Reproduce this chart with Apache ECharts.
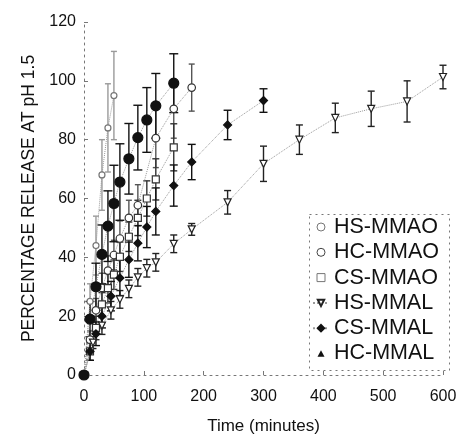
<!DOCTYPE html>
<html>
<head>
<meta charset="utf-8">
<script src="https://cdn.jsdelivr.net/npm/echarts@6/dist/echarts.min.js"></script>
<style>
html,body{margin:0;padding:0;background:#fff;}
#chart{width:460px;height:440px;}
</style>
</head>
<body>
<div id="chart"></div>
<script>
// ---- axis ticks ----
const xTicks = [0, 100, 200, 300, 400, 500, 600];
const yTicks = [0, 20, 40, 60, 80, 100, 120];

// ---- HS-MMAO (small open circles, fastest) ----
const hsMmaoT = [0, 10, 20, 30, 40, 50];
const hsMmaoV = [0, 25, 44, 68, 84, 95];
const hsMmaoE = [0, 6, 10, 12, 15, 15];

// ---- HC-MMAO (open circles) ----
const hcMmaoT = [0, 10, 20, 30, 40, 50, 60, 75, 90, 120, 150, 180];
const hcMmaoV = [0, 12, 22, 29.6, 35.5, 40.8, 46.4, 53.4, 57.7, 80.5, 90.5, 97.7];
const hcMmaoE = [0, 3, 4, 5, 5, 5, 6, 6, 7, 10, 10, 8];

// ---- CS-MMAO (open squares) ----
const csMmaoT = [0, 10, 20, 30, 40, 50, 60, 75, 90, 105, 120, 150];
const csMmaoV = [0, 8, 16, 24, 29.5, 34.1, 40.2, 47, 53.4, 60, 66.5, 77.4];
const csMmaoE = [0, 3, 4, 4, 5, 5, 5, 5, 6, 6, 7, 8];

// ---- HS-MMAL (open down triangles) ----
const hsMmalT = [0, 15, 30, 45, 60, 75, 90, 105, 120, 150, 180, 240, 300, 360, 420, 480, 540, 600];
const hsMmalV = [0, 11, 16.8, 22, 25.7, 29.3, 33.2, 36.3, 38.3, 44.6, 49.5, 58.7, 71.8, 80, 87.4, 90.5, 93, 101.3];
const hsMmalE = [0, 2, 3, 3, 3, 3, 3, 3, 3, 3, 2, 4, 6, 5, 5, 6, 7, 4];

// ---- CS-MMAL (filled diamonds) ----
const csMmalT = [0, 10, 20, 30, 45, 60, 75, 90, 105, 120, 150, 180, 240, 300];
const csMmalV = [0, 8, 14, 20, 26.8, 33, 39.2, 44.8, 50.3, 55.6, 64.4, 72.4, 85, 93.3];
const csMmalE = [0, 3, 4, 4, 5, 6, 6, 6, 7, 8, 7, 6, 5, 4];

// ---- HC-MMAL (large filled circles) ----
const hcMmalT = [0, 10, 20, 30, 40, 50, 60, 75, 90, 105, 120, 150];
const hcMmalV = [0, 19, 30, 41, 50.6, 58.3, 65.6, 73.5, 80.7, 86.7, 91.5, 99.2];
const hcMmalE = [0, 6, 8, 10, 12, 13, 13, 12, 11, 11, 11, 10];

const FONT = '"Liberation Sans", Arial, sans-serif';

function pts(t, v) { return t.map((x, i) => [x, v[i]]); }

function errSeries(id, t, v, e, color, cap) {
  return {
    type: 'custom',
    name: id + ' err',
    silent: true,
    z: 1,
    data: t.map((x, i) => [x, v[i] - e[i], v[i] + e[i], e[i]]),
    renderItem: function (params, api) {
      if (api.value(3) <= 0) return null;
      const x = api.value(0);
      const lo = api.coord([x, api.value(1)]);
      const hi = api.coord([x, api.value(2)]);
      const st = { stroke: color, lineWidth: 1.4 };
      return {
        type: 'group',
        children: [
          { type: 'line', shape: { x1: lo[0], y1: lo[1], x2: hi[0], y2: hi[1] }, style: st },
          { type: 'line', shape: { x1: lo[0] - cap, y1: lo[1], x2: lo[0] + cap, y2: lo[1] }, style: st },
          { type: 'line', shape: { x1: hi[0] - cap, y1: hi[1], x2: hi[0] + cap, y2: hi[1] }, style: st }
        ]
      };
    }
  };
}

function lineSeries(name, t, v, symbol, size, fill, stroke, rotate) {
  return {
    type: 'line',
    name: name,
    data: pts(t, v),
    symbol: symbol,
    symbolSize: size,
    symbolRotate: rotate || 0,
    z: 3,
    itemStyle: { color: fill, borderColor: stroke, borderWidth: 1.2 },
    lineStyle: { color: '#9a9a9a', width: 1, type: 'dotted' },
    emphasis: { disabled: true },
    animation: false
  };
}

const chart = echarts.init(document.getElementById('chart'), null, { renderer: 'canvas' });

const option = {
  animation: false,
  backgroundColor: '#fff',
  grid: { left: 84, right: 17, top: 22, bottom: 60 },
  xAxis: {
    type: 'value',
    min: xTicks[0],
    max: xTicks[xTicks.length - 1],
    interval: 100,
    name: 'Time (minutes)',
    nameLocation: 'middle',
    nameGap: 43,
    nameTextStyle: { fontFamily: FONT, fontSize: 17, color: '#111' },
    axisLine: { lineStyle: { color: '#777', type: [2, 4], width: 1 } },
    axisTick: { show: true, inside: true, length: 4, lineStyle: { color: '#777' } },
    axisLabel: { fontFamily: FONT, fontSize: 16, color: '#111', margin: 14 },
    splitLine: { show: false }
  },
  yAxis: {
    type: 'value',
    min: yTicks[0],
    max: yTicks[yTicks.length - 1],
    interval: 20,
    name: 'PERCENTAGE RELEASE AT pH 1.5',
    nameLocation: 'middle',
    nameGap: 45,
    nameTextStyle: { fontFamily: FONT, fontSize: 17.5, color: '#111' },
    axisLine: { show: true, lineStyle: { color: '#777', type: [2, 4], width: 1 } },
    axisTick: { show: true, inside: true, length: 4, lineStyle: { color: '#777' } },
    axisLabel: { fontFamily: FONT, fontSize: 16, color: '#111', margin: 8 },
    splitLine: { show: false }
  },
  legend: {
    orient: 'vertical',
    left: 312,
    top: 216,
    itemWidth: 16,
    itemHeight: 8,
    itemGap: 3.3,
    padding: 0,
    textStyle: { fontFamily: FONT, fontSize: 21.5, color: '#111', lineHeight: 21, padding: [0, 0, 0, 0] },
    data: [
      { name: 'HS-MMAO', icon: 'circle', itemStyle: { color: '#fff', borderColor: '#777', borderWidth: 1 } },
      { name: 'HC-MMAO', icon: 'circle', itemStyle: { color: '#fff', borderColor: '#444', borderWidth: 1 } },
      { name: 'CS-MMAO', icon: 'path://M0,0L8,0L8,8L0,8Z', itemStyle: { color: '#fff', borderColor: '#777', borderWidth: 1 } },
      { name: 'HS-MMAL' },
      { name: 'CS-MMAL' },
      { name: 'HC-MMAL', icon: 'path://M0,4L16,4M4.5,7.5L8,1L11.5,7.5Z', itemStyle: { color: '#111', borderColor: '#111', borderWidth: 0 } }
    ]
  },
  graphic: [{
    type: 'rect',
    left: 307, top: 212,
    shape: { width: 140, height: 156 },
    style: { fill: null, stroke: '#777', lineWidth: 1, lineDash: [2, 4] },
    silent: true
  }],
  series: [
    errSeries('HS-MMAO', hsMmaoT, hsMmaoV, hsMmaoE, '#9a9a9a', 3),
    errSeries('HC-MMAO', hcMmaoT, hcMmaoV, hcMmaoE, '#555', 3),
    errSeries('CS-MMAO', csMmaoT, csMmaoV, csMmaoE, '#333', 3.5),
    errSeries('HS-MMAL', hsMmalT, hsMmalV, hsMmalE, '#222', 3.5),
    errSeries('CS-MMAL', csMmalT, csMmalV, csMmalE, '#111', 4),
    errSeries('HC-MMAL', hcMmalT, hcMmalV, hcMmalE, '#111', 4.5),
    lineSeries('HS-MMAO', hsMmaoT, hsMmaoV, 'circle', 6, '#fff', '#777'),
    lineSeries('HC-MMAO', hcMmaoT, hcMmaoV, 'circle', 7.5, '#fff', '#333'),
    lineSeries('CS-MMAO', csMmaoT, csMmaoV, 'rect', 7, '#fff', '#333'),
    lineSeries('HS-MMAL', hsMmalT, hsMmalV, 'triangle', 7, '#fff', '#222', 180),
    lineSeries('CS-MMAL', csMmalT, csMmalV, 'diamond', 8, '#111', '#111'),
    lineSeries('HC-MMAL', hcMmalT, hcMmalV, 'circle', 10, '#111', '#111')
  ]
};
chart.setOption(option);
</script>
</body>
</html>
